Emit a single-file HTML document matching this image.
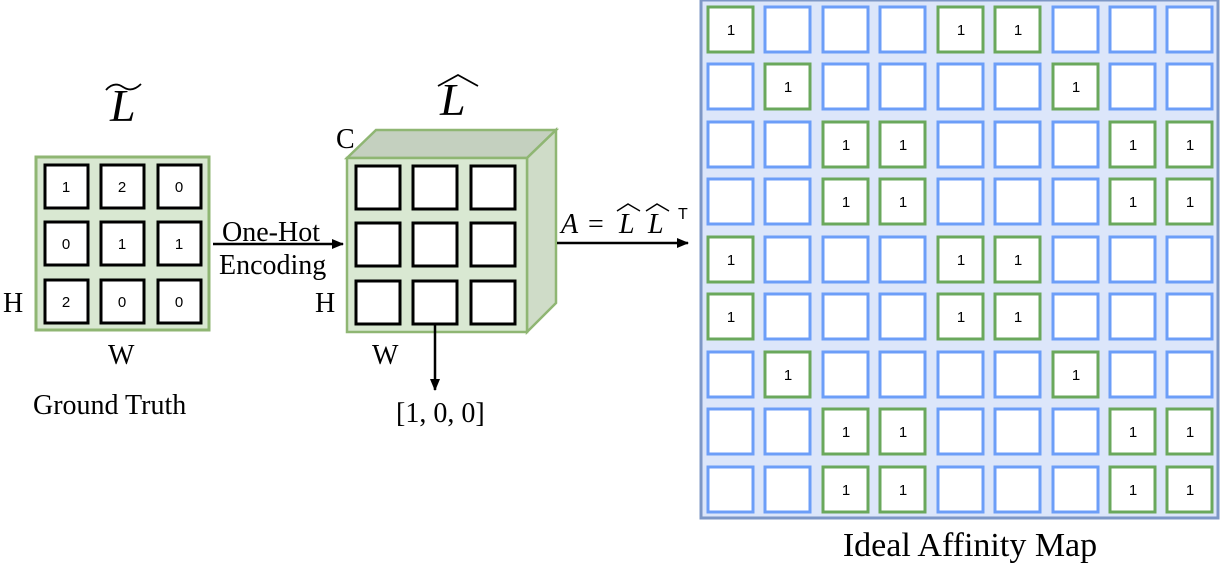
<!DOCTYPE html>
<html><head><meta charset="utf-8"><style>
html,body{margin:0;padding:0;background:#fff;}
svg{display:block;}
.s{font-family:"Liberation Serif",serif;fill:#000;}
.n{font-family:"Liberation Sans",sans-serif;font-size:15px;text-anchor:middle;fill:#000;}
.b{fill:#fff;stroke:#6c9ef8;stroke-width:3;}
.g{fill:#fff;stroke:#6aa85c;stroke-width:3;}
.k{fill:#fff;stroke:#000;stroke-width:3;}
</style></head><body>
<svg width="1222" height="567" viewBox="0 0 1222 567" xmlns="http://www.w3.org/2000/svg">
<defs><marker id="ah" markerWidth="12" markerHeight="10" refX="11" refY="5" orient="auto" markerUnits="userSpaceOnUse"><path d="M0,0 L12,5 L0,10 Z" fill="#000"/></marker></defs>

<!-- Left grid -->
<text class="s" x="110" y="121" font-size="46" font-style="italic">L</text>
<path d="M106,90 Q114,81 123,87 Q132,93 141,84" fill="none" stroke="#000" stroke-width="1.8"/>
<rect x="36" y="157" width="173" height="173" fill="#d9e8d2" stroke="#8fb673" stroke-width="3"/>
<rect class="k" x="45" y="165" width="43" height="43"/><rect class="k" x="101" y="165" width="43" height="43"/><rect class="k" x="158" y="165" width="43" height="43"/>
<rect class="k" x="45" y="222" width="43" height="43"/><rect class="k" x="101" y="222" width="43" height="43"/><rect class="k" x="158" y="222" width="43" height="43"/>
<rect class="k" x="45" y="280" width="43" height="43"/><rect class="k" x="101" y="280" width="43" height="43"/><rect class="k" x="158" y="280" width="43" height="43"/>
<text class="n" x="66" y="192">1</text><text class="n" x="122" y="192">2</text><text class="n" x="179" y="192">0</text>
<text class="n" x="66" y="249">0</text><text class="n" x="122" y="249">1</text><text class="n" x="179" y="249">1</text>
<text class="n" x="66" y="307">2</text><text class="n" x="122" y="307">0</text><text class="n" x="179" y="307">0</text>
<text class="s" x="3" y="312" font-size="28">H</text>
<text class="s" x="108" y="364" font-size="28">W</text>
<text class="s" x="33" y="414" font-size="28">Ground Truth</text>

<!-- One-hot arrow -->
<line x1="213" y1="244" x2="343" y2="244" stroke="#000" stroke-width="2.5" marker-end="url(#ah)"/>
<text class="s" x="222" y="241" font-size="28">One-Hot</text>
<text class="s" x="219" y="274" font-size="28">Encoding</text>

<!-- Cube -->
<text class="s" x="440" y="115" font-size="46" font-style="italic">L</text>
<path d="M438,86 L458,75 L478,86" fill="none" stroke="#000" stroke-width="1.8"/>
<polygon points="347,158 376,130 556,130 527,158" fill="#c4d0bf" stroke="#8fb673" stroke-width="2.5"/>
<polygon points="527,158 556,130 556,303 527,332" fill="#cfdcc8" stroke="#8fb673" stroke-width="2.5"/>
<rect x="347" y="158" width="180" height="174" fill="#d9e8d2" stroke="#8fb673" stroke-width="2.5"/>
<rect class="k" x="356" y="166" width="44" height="43"/><rect class="k" x="413" y="166" width="44" height="43"/><rect class="k" x="471" y="166" width="44" height="43"/>
<rect class="k" x="356" y="223" width="44" height="43"/><rect class="k" x="413" y="223" width="44" height="43"/><rect class="k" x="471" y="223" width="44" height="43"/>
<rect class="k" x="356" y="281" width="44" height="43"/><rect class="k" x="413" y="281" width="44" height="43"/><rect class="k" x="471" y="281" width="44" height="43"/>
<text class="s" x="336" y="148" font-size="28">C</text>
<text class="s" x="315" y="312" font-size="28">H</text>
<text class="s" x="372" y="364" font-size="28">W</text>
<line x1="435" y1="324" x2="435" y2="390" stroke="#000" stroke-width="2.5" marker-end="url(#ah)"/>
<text class="s" x="396" y="422" font-size="28">[1, 0, 0]</text>

<!-- A arrow -->
<line x1="557" y1="243" x2="688" y2="243" stroke="#000" stroke-width="2.5" marker-end="url(#ah)"/>
<text class="s" x="561" y="233" font-size="28" font-style="italic">A</text>
<text class="s" x="588" y="233" font-size="28">=</text>
<text class="s" x="619" y="233" font-size="28" font-style="italic">L</text>
<text class="s" x="648" y="233" font-size="28" font-style="italic">L</text>
<path d="M617,211 L628,204 L640,211" fill="none" stroke="#000" stroke-width="1.4"/>
<path d="M646,211 L657,204 L669,211" fill="none" stroke="#000" stroke-width="1.4"/>
<text x="678" y="219" font-family="Liberation Sans,sans-serif" font-size="16">T</text>

<!-- Affinity map -->
<rect x="701" y="0" width="517" height="518" fill="#dce6fa" stroke="#7d97c6" stroke-width="3"/>
<g>
<rect class="g" x="708" y="7" width="45" height="45"/><rect class="b" x="765" y="7" width="45" height="45"/><rect class="b" x="823" y="7" width="45" height="45"/><rect class="b" x="880" y="7" width="45" height="45"/><rect class="g" x="938" y="7" width="45" height="45"/><rect class="g" x="995" y="7" width="45" height="45"/><rect class="b" x="1053" y="7" width="45" height="45"/><rect class="b" x="1110" y="7" width="45" height="45"/><rect class="b" x="1167" y="7" width="45" height="45"/>
<rect class="b" x="708" y="64" width="45" height="45"/><rect class="g" x="765" y="64" width="45" height="45"/><rect class="b" x="823" y="64" width="45" height="45"/><rect class="b" x="880" y="64" width="45" height="45"/><rect class="b" x="938" y="64" width="45" height="45"/><rect class="b" x="995" y="64" width="45" height="45"/><rect class="g" x="1053" y="64" width="45" height="45"/><rect class="b" x="1110" y="64" width="45" height="45"/><rect class="b" x="1167" y="64" width="45" height="45"/>
<rect class="b" x="708" y="122" width="45" height="45"/><rect class="b" x="765" y="122" width="45" height="45"/><rect class="g" x="823" y="122" width="45" height="45"/><rect class="g" x="880" y="122" width="45" height="45"/><rect class="b" x="938" y="122" width="45" height="45"/><rect class="b" x="995" y="122" width="45" height="45"/><rect class="b" x="1053" y="122" width="45" height="45"/><rect class="g" x="1110" y="122" width="45" height="45"/><rect class="g" x="1167" y="122" width="45" height="45"/>
<rect class="b" x="708" y="179" width="45" height="45"/><rect class="b" x="765" y="179" width="45" height="45"/><rect class="g" x="823" y="179" width="45" height="45"/><rect class="g" x="880" y="179" width="45" height="45"/><rect class="b" x="938" y="179" width="45" height="45"/><rect class="b" x="995" y="179" width="45" height="45"/><rect class="b" x="1053" y="179" width="45" height="45"/><rect class="g" x="1110" y="179" width="45" height="45"/><rect class="g" x="1167" y="179" width="45" height="45"/>
<rect class="g" x="708" y="237" width="45" height="45"/><rect class="b" x="765" y="237" width="45" height="45"/><rect class="b" x="823" y="237" width="45" height="45"/><rect class="b" x="880" y="237" width="45" height="45"/><rect class="g" x="938" y="237" width="45" height="45"/><rect class="g" x="995" y="237" width="45" height="45"/><rect class="b" x="1053" y="237" width="45" height="45"/><rect class="b" x="1110" y="237" width="45" height="45"/><rect class="b" x="1167" y="237" width="45" height="45"/>
<rect class="g" x="708" y="294" width="45" height="45"/><rect class="b" x="765" y="294" width="45" height="45"/><rect class="b" x="823" y="294" width="45" height="45"/><rect class="b" x="880" y="294" width="45" height="45"/><rect class="g" x="938" y="294" width="45" height="45"/><rect class="g" x="995" y="294" width="45" height="45"/><rect class="b" x="1053" y="294" width="45" height="45"/><rect class="b" x="1110" y="294" width="45" height="45"/><rect class="b" x="1167" y="294" width="45" height="45"/>
<rect class="b" x="708" y="352" width="45" height="45"/><rect class="g" x="765" y="352" width="45" height="45"/><rect class="b" x="823" y="352" width="45" height="45"/><rect class="b" x="880" y="352" width="45" height="45"/><rect class="b" x="938" y="352" width="45" height="45"/><rect class="b" x="995" y="352" width="45" height="45"/><rect class="g" x="1053" y="352" width="45" height="45"/><rect class="b" x="1110" y="352" width="45" height="45"/><rect class="b" x="1167" y="352" width="45" height="45"/>
<rect class="b" x="708" y="409" width="45" height="45"/><rect class="b" x="765" y="409" width="45" height="45"/><rect class="g" x="823" y="409" width="45" height="45"/><rect class="g" x="880" y="409" width="45" height="45"/><rect class="b" x="938" y="409" width="45" height="45"/><rect class="b" x="995" y="409" width="45" height="45"/><rect class="b" x="1053" y="409" width="45" height="45"/><rect class="g" x="1110" y="409" width="45" height="45"/><rect class="g" x="1167" y="409" width="45" height="45"/>
<rect class="b" x="708" y="467" width="45" height="45"/><rect class="b" x="765" y="467" width="45" height="45"/><rect class="g" x="823" y="467" width="45" height="45"/><rect class="g" x="880" y="467" width="45" height="45"/><rect class="b" x="938" y="467" width="45" height="45"/><rect class="b" x="995" y="467" width="45" height="45"/><rect class="b" x="1053" y="467" width="45" height="45"/><rect class="g" x="1110" y="467" width="45" height="45"/><rect class="g" x="1167" y="467" width="45" height="45"/>
</g>
<g>
<text class="n" x="731" y="35">1</text><text class="n" x="961" y="35">1</text><text class="n" x="1018" y="35">1</text>
<text class="n" x="788" y="92">1</text><text class="n" x="1076" y="92">1</text>
<text class="n" x="846" y="150">1</text><text class="n" x="903" y="150">1</text><text class="n" x="1133" y="150">1</text><text class="n" x="1190" y="150">1</text>
<text class="n" x="846" y="207">1</text><text class="n" x="903" y="207">1</text><text class="n" x="1133" y="207">1</text><text class="n" x="1190" y="207">1</text>
<text class="n" x="731" y="265">1</text><text class="n" x="961" y="265">1</text><text class="n" x="1018" y="265">1</text>
<text class="n" x="731" y="322">1</text><text class="n" x="961" y="322">1</text><text class="n" x="1018" y="322">1</text>
<text class="n" x="788" y="380">1</text><text class="n" x="1076" y="380">1</text>
<text class="n" x="846" y="437">1</text><text class="n" x="903" y="437">1</text><text class="n" x="1133" y="437">1</text><text class="n" x="1190" y="437">1</text>
<text class="n" x="846" y="495">1</text><text class="n" x="903" y="495">1</text><text class="n" x="1133" y="495">1</text><text class="n" x="1190" y="495">1</text>
</g>
<text class="s" x="970" y="556" font-size="34" text-anchor="middle">Ideal Affinity Map</text>
</svg>
</body></html>
